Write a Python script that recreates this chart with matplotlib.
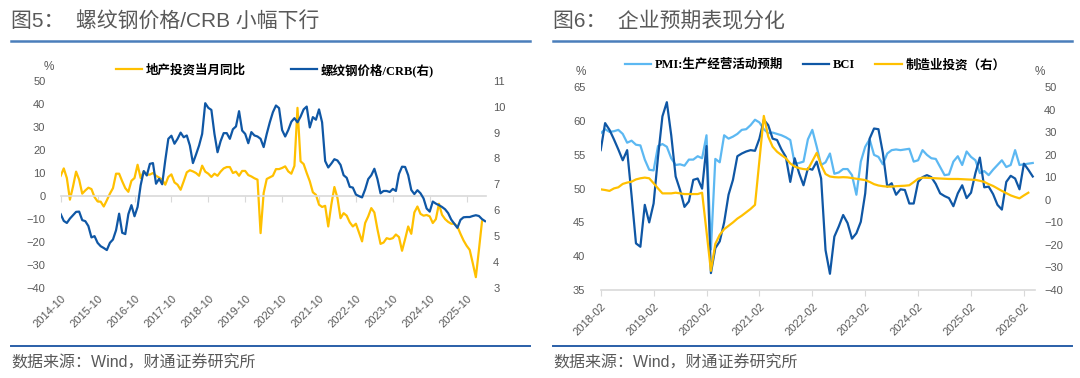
import numpy as np
import matplotlib
matplotlib.use("Agg")
import matplotlib.pyplot as plt
from matplotlib.lines import Line2D

plt.rcParams['font.family'] = ['Liberation Sans', 'Noto Sans CJK SC', 'DejaVu Sans']
plt.rcParams['axes.unicode_minus'] = True

# ---- data: chart 5 (monthly from 2014-10) ----
estate_yoy = [8.7, 11.9, 7.7, -1.7, 4.0, 10.5, 7.0, 0.9, 2.3, 3.5,
              2.9, -0.6, -2.5, -2.6, -4.7, -2.0, 0.9, 3.3, 9.6, 9.6,
              6.3, 3.3, 1.7, 6.5, 7.7, 13.5, 7.7, 10.6, 9.2, 9.2,
              9.9, 8.7, 7.9, 7.0, 4.8, 8.2, 9.3, 5.8, 4.8, 2.6,
              6.3, 10.2, 11.1, 10.6, 9.9, 8.7, 13.1, 10.5, 9.6, 8.2,
              9.6, 8.7, 10.5, 11.9, 12.5, 12.5, 9.9, 10.5, 8.7, 10.8,
              10.8, 9.0, 8.4, 7.6,
              7.0, -16.3, 1.2, 7.3, 8.0, 8.7, 11.6, 11.6, 12.1, 12.8,
              10.6, 9.6, 13.0, 38.3, 15.0, 13.8, 9.9, 6.3, 1.5, 0.4,
              -3.9, -4.9, -4.4, -13.4, -3.9, 3.8, -1.0, -9.8, -7.6, -8.7,
              -11.6, -13.4, -12.2, -16.0, -19.9, -11.9, -9.0, -5.4, -7.3, -14.6,
              -21.0, -20.4, -18.5, -18.9, -18.5, -16.9, -18.0, -24.0, -18.9, -13.4,
              -16.6, -7.3, -4.7, -7.9, -8.7, -8.4, -9.0, -11.9, -10.2, -3.5,
              -8.3, -10.2, -11.4, -12.2, -12.2, -13.4, -16.6, -19.5, -21.8, -23.6,
              -29.4, -35.5, -23.6, -11.2]

rebar_crb = [5.84, 5.58, 5.5, 5.67, 5.8, 5.93, 5.94, 5.61, 5.57, 5.38,
             4.94, 4.99, 4.73, 4.6, 4.53, 4.45, 4.73, 4.86, 5.22, 5.86,
             5.12, 5.07, 5.84, 6.19, 5.76, 6.12, 6.96, 7.51, 7.34, 7.79,
             7.82, 7.02, 7.21, 7.0, 7.92, 8.76, 8.88, 8.57, 8.76, 9.0,
             8.82, 8.89, 8.5, 7.82, 8.15, 8.5, 8.95, 10.14, 9.96, 9.88,
             8.95, 8.24, 8.67, 8.98, 8.98, 8.76, 9.13, 9.24, 9.83, 9.08,
             8.95, 8.59, 9.02, 8.89,
             8.85, 8.76, 8.44, 8.95, 9.4, 9.79, 10.05, 9.95, 9.1, 8.85,
             9.1, 9.42, 9.56, 9.4, 9.62, 9.9, 10.01, 9.2, 9.6, 9.5,
             9.9, 9.4, 7.9, 7.65, 7.8, 7.97, 7.92, 7.75, 7.35, 7.25,
             6.9, 6.87, 6.6, 6.54, 6.49, 6.8, 7.2, 7.35, 7.6, 7.2,
             6.65, 6.74, 6.74, 6.7, 6.82, 6.74, 7.4, 7.68, 7.67, 7.35,
             6.78, 6.62, 6.77, 6.65, 6.45, 6.06, 5.94, 6.33, 6.25, 6.19,
             6.12, 6.03, 5.88, 5.63, 5.47, 5.31, 5.62, 5.72, 5.73, 5.73,
             5.77, 5.8, 5.77, 5.65, 5.57]

left_tick_labels = ['2014-10', '2015-10', '2016-10', '2017-10', '2018-10', '2019-10',
                    '2020-10', '2021-10', '2022-10', '2023-10', '2024-10', '2025-10']

# ---- data: chart 6 (monthly from 2018-02) ----
pmi_expect = [58.2, 58.8, 58.4, 58.5, 58.7, 58.1, 56.8, 57.1, 56.5, 56.4,
              54.3, 52.8, 52.7, 56.3, 56.6, 56.2, 54.5, 53.5, 53.6, 53.4,
              54.3, 54.3, 54.8, 54.5, 57.9, 41.0, 54.4, 53.9, 57.9, 57.4,
              57.7, 58.1, 58.7, 58.8, 59.4, 60.2, 59.8, 58.8, 58.2, 58.3,
              58.1,
              57.9, 57.6, 57.2, 53.7, 53.8, 54.0, 57.3, 58.7, 56.2, 53.5,
              53.9, 55.2, 52.2, 52.4, 52.9, 52.9, 52.0, 49.1, 54.0, 56.2,
              57.3, 55.0, 54.7, 53.6, 55.2, 55.7, 55.8, 55.7, 55.8, 55.9,
              54.0, 54.2, 55.7, 55.0, 54.5, 54.4, 53.2, 52.0, 52.1, 54.0,
              54.8, 53.5, 55.5, 54.7, 54.2, 52.3, 52.6, 52.0, 52.8, 53.5,
              54.2, 53.2, 53.5, 55.7, 53.5, 53.6, 53.7, 53.8]

bci = [55.7, 59.7, 58.7, 57.3, 55.8, 54.2, 55.7, 49.0, 41.9, 41.4,
       47.6, 45.0, 47.8, 54.7, 60.7, 62.8, 57.9, 51.8, 49.8, 47.3,
       48.1, 51.3, 51.5, 50.0, 56.3, 37.5, 41.2, 42.2, 45.0, 49.1,
       51.3, 54.8, 55.2, 55.5, 55.7, 55.6, 57.4, 60.2, 59.4, 57.4,
       57.2, 55.8, 54.7, 51.0,
       54.5, 52.3, 50.5, 53.0, 52.8, 54.0, 51.5, 40.9, 37.4, 42.9,
       44.4, 46.1, 44.9, 42.6, 43.4, 45.1, 49.3, 57.4, 58.9, 58.8,
       55.3, 50.3, 50.8, 49.1, 49.9, 49.8, 47.8, 47.8, 51.0, 51.7,
       52.0, 51.7, 50.7, 49.3, 48.9, 48.6, 47.4, 49.3, 50.5, 48.6,
       49.4, 52.3, 54.6, 50.2, 50.3, 49.2, 47.6, 46.9, 51.0, 51.9,
       51.5, 49.9, 53.7, 52.8, 51.8]

mfg_invest = [4.7, 4.4, 4.0, 5.1, 5.6, 7.1, 7.7, 8.1, 9.1, 9.6,
              9.9, 9.6, 7.4, 5.1, 2.9, 2.9, 2.9, 3.2, 2.9, 2.6,
              2.6, 2.6, 2.6, 3.2, -14.0, -31.5, -19.5, -15.5, -13.0, -11.5,
              -10.0, -8.3, -7.0, -5.5, -4.0, -2.2, 17.5, 37.3, 28.1, 23.6,
              21.4, 19.9, 18.5, 16.2,
              14.8, 14.1, 13.7, 13.5, 17.2, 20.9, 15.5, 11.5, 10.4, 10.1,
              10.0, 10.1, 10.0, 9.7, 9.4, 9.1, 8.8, 8.0, 7.0, 6.4,
              6.1, 5.9, 5.9, 6.1, 6.2, 6.3, 6.5, 7.9, 9.4, 9.9,
              9.8, 9.7, 9.6, 9.5, 9.4, 9.3, 9.3, 9.3, 9.2, 9.1,
              9.0, 8.9, 8.5, 8.0, 7.0, 6.2, 5.1, 4.0, 3.0, 2.0,
              1.3, 0.7, 2.0, 3.2]

right_tick_labels = ['2018-02', '2019-02', '2020-02', '2021-02', '2022-02',
                     '2023-02', '2024-02', '2025-02', '2026-02']

GREY = '#595959'
AXIS_GREY = '#d9d9d9'
YELLOW = '#ffc000'
BLUE = '#0f57a5'
LIGHT = '#5cb8f2'

W, H = 1080, 378


def fx(px):
    return px / W


def fy(py):
    return 1 - py / H


legend_font = {'family': ['Liberation Serif', 'Noto Sans CJK SC'], 'size': 9, 'weight': 'bold'}

fig = plt.figure(figsize=(10.8, 3.78), dpi=100)

# ---- headers and footers ----
for x0, x1, title in [(11, 530, '图5：  螺纹钢价格/CRB 小幅下行'),
                      (553, 1072, '图6：  企业预期表现分化')]:
    fig.text(fx(x0), fy(21), title, fontsize=15, color=GREY, va='center', ha='left')
    fig.add_artist(Line2D([fx(x0), fx(x1)], [fy(40.5), fy(40.5)], transform=fig.transFigure,
                          color='#4a7ebb', lw=1.8))
    fig.add_artist(Line2D([fx(x0), fx(x1)], [fy(345.5), fy(345.5)], transform=fig.transFigure,
                          color='#2a5fa8', lw=1.4))
    fig.text(fx(x0), fy(363), '数据来源：Wind，财通证券研究所', fontsize=11.5, color=GREY,
             va='center', ha='left')

# ---- chart 5 ----
ax1 = fig.add_axes([fx(60.7), fy(287.5), fx(486.3 - 60.7), (287.5 - 81) / H])
m1 = np.arange(len(estate_yoy))
m2 = np.arange(len(rebar_crb))
l_estate, = ax1.plot(m1, estate_yoy, color=YELLOW, lw=1.6)
ax1b = ax1.twinx()
l_rebar, = ax1b.plot(m2, rebar_crb, color=BLUE, lw=1.6)

ax1.set_xlim(0, 138.4)
ax1.set_ylim(-40, 50)
ax1.set_yticks(range(-40, 51, 10))
ax1b.set_ylim(3, 11)
ax1b.set_yticks(range(3, 12))

for s in ['top', 'left', 'right']:
    ax1.spines[s].set_visible(False)
ax1.spines['bottom'].set_position(('data', 0))
ax1.spines['bottom'].set_color(AXIS_GREY)
ax1.spines['bottom'].set_linewidth(1.2)
for s in ax1b.spines.values():
    s.set_visible(False)

left_ticks = np.arange(len(left_tick_labels)) * 12
ax1.set_xticks(left_ticks)
ax1.tick_params(axis='x', length=4, color=AXIS_GREY, labelbottom=False)
ax1.tick_params(axis='y', length=0, pad=11, labelsize=8, labelcolor=GREY)
ax1b.tick_params(axis='y', length=0, pad=5, labelsize=8, labelcolor=GREY)

sec1 = ax1.secondary_xaxis('bottom')
sec1.set_xticks(left_ticks, labels=left_tick_labels)
sec1.tick_params(length=0, pad=4, labelsize=8, labelcolor=GREY)
sec1.spines['bottom'].set_visible(False)
plt.setp(sec1.get_xticklabels(), rotation=45, ha='right', rotation_mode='anchor')

fig.text(fx(49), fy(67), '%', fontsize=8.5, color=GREY, ha='center', va='center')
fig.legend([l_estate, l_rebar], ['地产投资当月同比', '螺纹钢价格/CRB(右)'],
           loc='center', bbox_to_anchor=(fx(275), fy(70)), ncol=2, frameon=False,
           prop=legend_font, handlelength=2.1, handletextpad=0.3, columnspacing=3.6)

# ---- chart 6 ----
ax2 = fig.add_axes([fx(600.7), fy(290), fx(1034.5 - 600.7), (290 - 87.3) / H])
n1 = np.arange(len(pmi_expect))
n2 = np.arange(len(bci))
n3 = np.arange(len(mfg_invest))
l_pmi, = ax2.plot(n1, pmi_expect, color=LIGHT, lw=1.6)
l_bci, = ax2.plot(n2, bci, color=BLUE, lw=1.6)
ax2b = ax2.twinx()
l_mfg, = ax2b.plot(n3, mfg_invest, color=YELLOW, lw=1.6)

ax2.set_xlim(0, 98.4)
ax2.set_ylim(35, 65)
ax2.set_yticks(range(35, 66, 5))
ax2b.set_ylim(-40, 50)
ax2b.set_yticks(range(-40, 51, 10))

for s in ['top', 'left', 'right']:
    ax2.spines[s].set_visible(False)
ax2.spines['bottom'].set_color(AXIS_GREY)
ax2.spines['bottom'].set_linewidth(1.2)
for s in ax2b.spines.values():
    s.set_visible(False)

right_ticks = np.arange(len(right_tick_labels)) * 12
ax2.set_xticks(right_ticks, labels=right_tick_labels)
ax2.tick_params(axis='x', length=4, color=AXIS_GREY, pad=4, labelsize=8, labelcolor=GREY)
plt.setp(ax2.get_xticklabels(), rotation=45, ha='right', rotation_mode='anchor')
ax2.tick_params(axis='y', length=0, pad=11, labelsize=8, labelcolor=GREY)
ax2b.tick_params(axis='y', length=0, pad=7, labelsize=8, labelcolor=GREY)

fig.text(fx(581), fy(72), '%', fontsize=8.5, color=GREY, ha='center', va='center')
fig.text(fx(1040), fy(72), '%', fontsize=8.5, color=GREY, ha='center', va='center')
fig.legend([l_pmi, l_bci, l_mfg], ['PMI:生产经营活动预期', 'BCI', '制造业投资（右）'],
           loc='center', bbox_to_anchor=(fx(815), fy(65)), ncol=3, frameon=False,
           prop=legend_font, handlelength=2.1, handletextpad=0.3, columnspacing=1.6)

fig.savefig('out.png', dpi=100, facecolor='white')
